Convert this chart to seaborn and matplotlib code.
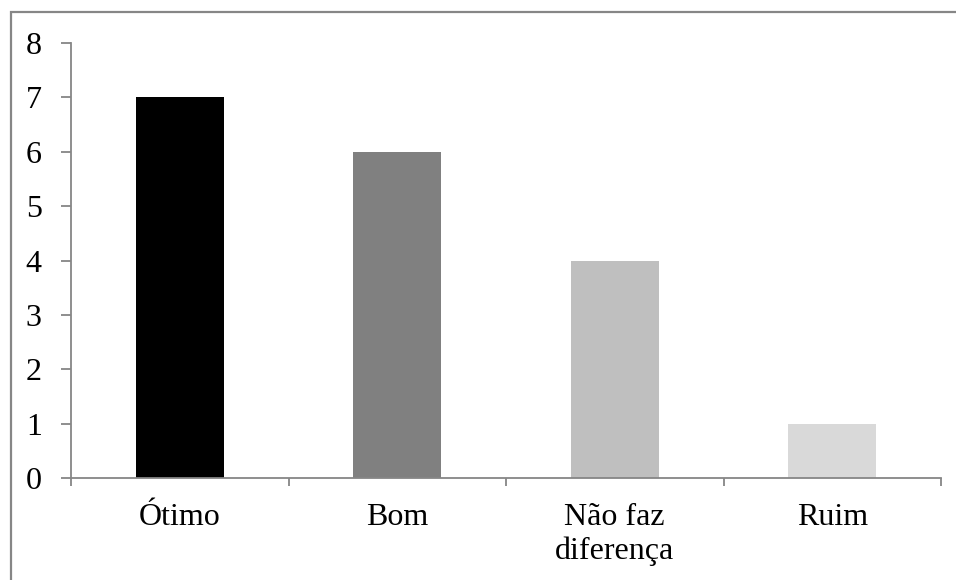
import matplotlib
matplotlib.use("Agg")
import matplotlib.pyplot as plt
import matplotlib.patches as patches
import seaborn as sns
import pandas as pd

categorias = ["Ótimo", "Bom", "Não faz\ndiferença", "Ruim"]
valores = [7, 6, 4, 1]
cores = ["#000000", "#808080", "#bfbfbf", "#d9d9d9"]

sns.set_style("white")
plt.rcParams["font.family"] = ["Liberation Serif", "DejaVu Serif"]
plt.rcParams["text.color"] = "black"
plt.rcParams["xtick.color"] = "black"
plt.rcParams["ytick.color"] = "black"

df = pd.DataFrame({"cat": categorias, "val": valores})

fig = plt.figure(figsize=(9.56, 5.8), dpi=100)
ax = fig.add_axes([71/956, 1-478/580, (941-71)/956, (478-43)/580])

sns.barplot(data=df, x="cat", y="val", hue="cat", palette=cores, width=0.405,
            legend=False, ax=ax, saturation=1, linewidth=0)

grey = "#868686"
ax.set_xlim(-0.5, 3.5)
ax.set_ylim(0, 8)
ax.set_yticks(range(0, 9))
ax.set_xticks(range(4))
ax.set_xticklabels(categorias)
ax.set_xticks([-0.5, 0.5, 1.5, 2.5, 3.5], minor=True)
ax.tick_params(axis="x", which="major", length=0, pad=18, labelsize=23, labelcolor="black")
ax.tick_params(axis="x", which="minor", length=6, width=1.3, color=grey, direction="out", bottom=True)
ax.tick_params(axis="y", length=7, width=1.3, color=grey, direction="out", left=True, pad=14,
               labelsize=23, labelcolor="black")
ax.set_xlabel("")
ax.set_ylabel("")
for s in ["top", "right"]:
    ax.spines[s].set_visible(False)
for s in ["left", "bottom"]:
    ax.spines[s].set_color(grey)
    ax.spines[s].set_linewidth(1.3)

# borda da área do gráfico
fig.patches.append(patches.Rectangle((11/956, -0.1), 2, 1 - 12/580 + 0.1,
                                     transform=fig.transFigure, fill=False,
                                     edgecolor=grey, linewidth=1.6))

fig.savefig("out.png", dpi=100)
